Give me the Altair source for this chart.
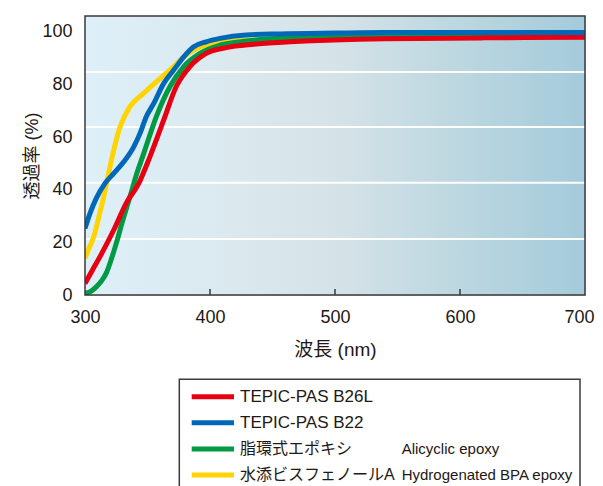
import altair as alt
import pandas as pd

# ---- data ----
series_names = ["TEPIC-PAS B26L", "TEPIC-PAS B22", "脂環式エポキシ", "水添ビスフェノールA"]
series_en = ["", "", "Alicyclic epoxy", "Hydrogenated BPA epoxy"]
series_colors = ["#e60012", "#0068b7", "#009944", "#ffd400"]

red_nm = [300, 306, 312, 323, 333, 343, 352, 363, 373, 384, 397, 413, 435, 464, 540, 620, 700]
red_t = [4.4, 9.5, 14.6, 24.7, 34.9, 42.4, 52.6, 66.5, 79.2, 86.8, 91.8, 94.0, 95.3, 96.2, 97.4, 97.7, 97.9]

blue_nm = [300, 304, 309, 316, 323, 331, 339, 344, 349, 355, 363, 371, 379, 387, 397, 408, 429, 456, 500, 540, 620, 700]
blue_t = [25.3, 31.0, 36.7, 42.4, 46.2, 50.6, 56.3, 61.4, 67.7, 72.8, 80.4, 85.5, 90.5, 94.3, 96.2, 97.5, 98.8, 99.2, 99.5, 99.7, 99.7, 99.7]

green_nm = [300, 305, 309, 313, 317, 321, 325, 330, 336, 341, 347, 357, 368, 379, 392, 408, 429, 456, 500, 544, 620, 700]
green_t = [0.6, 1.5, 3.1, 5.2, 8.3, 13.5, 19.6, 28.0, 37.4, 45.5, 53.8, 67.7, 79.2, 86.8, 91.8, 94.9, 96.5, 97.5, 97.9, 98.2, 98.5, 98.8]

yellow_nm = [300, 303, 307, 311, 315, 319, 323, 328, 336, 347, 357, 368, 381, 397, 416, 456, 500, 600, 700]
yellow_t = [14.0, 17.5, 22.1, 29.5, 37.4, 46.5, 55.1, 63.8, 71.6, 76.7, 81.0, 85.5, 91.2, 95.0, 96.3, 97.2, 97.7, 98.2, 98.5]

x_ticks = [300, 400, 500, 600, 700]
inner_ticks = [400, 500, 600]
y_ticks = [0, 20, 40, 60, 80, 100]
# white guide lines (they sit slightly above the labelled values)
grid_vals = [21.3, 42.6, 63.8, 84.7]

# ---- layout ----
W, H = 500, 279
TXT = "#231815"
FONT = "Liberation Sans, Noto Sans CJK JP, sans-serif"

x_scale = alt.Scale(domain=[300, 700], nice=False, zero=False)
y_scale = alt.Scale(domain=[0, 106], nice=False, zero=False)

one = pd.DataFrame({"k": [0]})

bg = alt.Chart(one).mark_rect(
    fill=alt.LinearGradient(
        gradient="linear", x1=0, x2=1, y1=0, y2=0,
        stops=[
            alt.GradientStop(color="#ddeff8", offset=0),
            alt.GradientStop(color="#dbe9ef", offset=0.3),
            alt.GradientStop(color="#d5e3e8", offset=0.5),
            alt.GradientStop(color="#bcd7e0", offset=0.75),
            alt.GradientStop(color="#a4cbdb", offset=1),
        ],
    )
).encode(x=alt.value(0), x2=alt.value(W), y=alt.value(0), y2=alt.value(H))

grid = alt.Chart(pd.DataFrame({"v": grid_vals})).mark_rule(color="white", strokeWidth=2).encode(
    y=alt.Y("v:Q", scale=y_scale, axis=None)
)

yaxis_layer = alt.Chart(pd.DataFrame({"v": y_ticks})).mark_rule(opacity=0).encode(
    y=alt.Y("v:Q", scale=y_scale,
            axis=alt.Axis(values=y_ticks, title="透過率 (%)", domain=False, ticks=False, grid=False,
                          labelFontSize=18, labelColor=TXT, labelPadding=13, labelFont=FONT,
                          labelFlush=False,
                          titleFontSize=18, titleFontWeight="normal", titleColor=TXT, titleFont=FONT,
                          titlePadding=0))
)

def line_layer(nm, t, color, axis):
    df = pd.DataFrame({"nm": nm, "t": t})
    return alt.Chart(df).mark_line(color=color, strokeWidth=5, interpolate="monotone", clip=True,
                                   strokeCap="butt").encode(
        x=alt.X("nm:Q", scale=x_scale, axis=axis),
        y=alt.Y("t:Q", scale=y_scale, axis=None),
    )

x_axis = alt.Axis(values=x_ticks, title="波長 (nm)", domain=False, ticks=False, grid=False,
                  labelFontSize=18, labelColor=TXT, labelPadding=13, labelFont=FONT,
                  labelFlush=False, labelBound=False,
                  labelAlign={"condition": {"test": "datum.value === 700", "value": "right"}, "value": "center"},
                  labelOffset={"condition": {"test": "datum.value === 700", "value": 9}, "value": 0},
                  titleFontSize=19, titleFontWeight="normal", titleColor=TXT, titleFont=FONT,
                  titlePadding=14)

l_yellow = line_layer(yellow_nm, yellow_t, series_colors[3], x_axis)
l_green = line_layer(green_nm, green_t, series_colors[2], None)
l_red = line_layer(red_nm, red_t, series_colors[0], None)
l_blue = line_layer(blue_nm, blue_t, series_colors[1], None)

ticks = alt.Chart(pd.DataFrame({"nm": inner_ticks})).mark_rule(color="#3a3a3a", strokeWidth=1.5).encode(
    x=alt.X("nm:Q", scale=x_scale, axis=None), y=alt.value(H - 6), y2=alt.value(H)
)

frame = alt.Chart(one).mark_rect(fillOpacity=0, stroke="#3a3a3a", strokeWidth=1.5).encode(
    x=alt.value(0), x2=alt.value(W), y=alt.value(0), y2=alt.value(H)
)

# ---- custom legend ----
leg_df = pd.DataFrame({"name": series_names, "en": series_en, "order": [0, 1, 2, 3]})
leg_y = alt.Scale(domain=[0, 3], range=[380.7, 459])

leg_box = alt.Chart(one).mark_rect(fill="white", stroke="#3a3a3a", strokeWidth=1.5).encode(
    x=alt.value(94.3), x2=alt.value(495), y=alt.value(363.3), y2=alt.value(500)
)
leg_sw = alt.Chart(leg_df).mark_rule(strokeWidth=5).encode(
    x=alt.value(106.7), x2=alt.value(149),
    y=alt.Y("order:Q", scale=leg_y, axis=None),
    color=alt.Color("name:N", scale=alt.Scale(domain=series_names, range=series_colors), legend=None),
)
leg_lat = alt.Chart(leg_df).transform_filter(alt.datum.order < 2).mark_text(
    align="left", baseline="middle", fontSize=17, color=TXT, font=FONT
).encode(x=alt.value(155), y=alt.Y("order:Q", scale=leg_y, axis=None), text="name:N")
leg_jp = alt.Chart(leg_df).transform_filter(alt.datum.order >= 2).mark_text(
    align="left", baseline="middle", fontSize=16, color=TXT, font=FONT
).encode(x=alt.value(155), y=alt.Y("order:Q", scale=leg_y, axis=None), text="name:N")
leg_en = alt.Chart(leg_df).mark_text(
    align="left", baseline="middle", fontSize=15, color=TXT, font=FONT
).encode(x=alt.value(316.7), y=alt.Y("order:Q", scale=leg_y, axis=None), text="en:N")

chart = alt.layer(
    bg, grid, yaxis_layer, l_yellow, l_green, l_red, l_blue, ticks, frame,
    leg_box, leg_sw, leg_lat, leg_jp, leg_en
).resolve_scale(
    x="independent", y="independent"
).properties(
    width=W, height=H,
    autosize=alt.AutoSizeParams(type="none"),
    padding={"left": 77, "top": 8, "right": 10, "bottom": 191},
    background="white",
).configure_view(stroke=None).configure(font=FONT)

chart.save("out.html", embed_options={"renderer": "svg", "actions": False})
